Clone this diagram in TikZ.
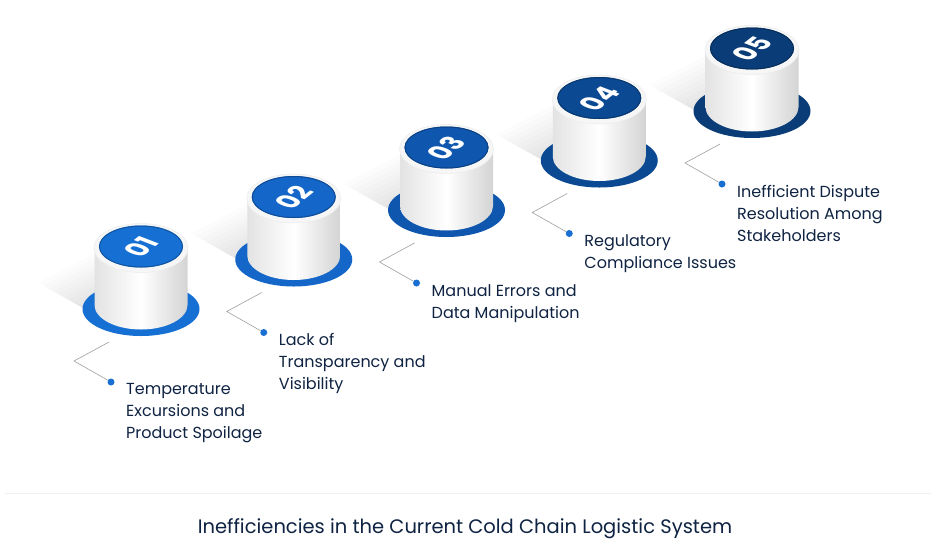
\documentclass[tikz,border=0pt]{standalone}
\usepackage{fontspec}
\setmainfont{Poppins}
\usepackage{xcolor}
\usepackage{tikz}
\usetikzlibrary{positioning}

\definecolor{ink}{HTML}{0F2342}
\definecolor{dotblue}{HTML}{1A6FD2}
\definecolor{blueA}{HTML}{1670D4}
\definecolor{blueB}{HTML}{1466C8}
\definecolor{blueC}{HTML}{0F57AE}
\definecolor{blueD}{HTML}{0B4A92}
\definecolor{blueE}{HTML}{0A3D78}

\begin{document}
\begin{tikzpicture}[x=1pt, y=-1pt,
        pointtext/.style={anchor=north west, align=left, inner sep=0pt, text=ink,
            font=\fontsize{16}{22}\selectfont},
        bullet/.style={circle, fill=dotblue, inner sep=0pt, minimum size=7pt},
        link/.style={draw=gray!75, line width=0.6pt},
        numtext/.style={text=white, inner sep=0pt, font=\fontsize{33}{33}\selectfont\bfseries}]

        \fill[white] (0,0) rectangle (931,555);
        \useasboundingbox (0,0) rectangle (931,555);

        \foreach \i/\col/\num/\txt in {
                0/blueA/01/{Temperature\\Excursions and\\Product Spoilage},
                1/blueB/02/{Lack of\\Transparency and\\Visibility},
                2/blueC/03/{Manual Errors and\\Data Manipulation},
                3/blueD/04/{Regulatory\\Compliance Issues},
                4/blueE/05/{Inefficient Dispute\\Resolution Among\\Stakeholders}} {

            \coordinate (top\num) at (141+152.75*\i, 248-49.5*\i);

            \begin{scope}[shift={(top\num)}]
                % soft shadow on the floor, built up in layers
                \foreach \k in {1,...,14}
                    \fill[black, opacity=0.012]
                        (33,40) -- (-33,74) -- ++(-5*\k,-2.8*\k) -- ++(66,-34) -- cycle;
                % base disk
                \fill[\col] (0,61) ellipse [x radius=58.5pt, y radius=27pt];
                % body
                \shade[left color=gray!22, right color=gray!34, middle color=white]
                    (-46.5,0) -- (-46.5,57)
                    arc[start angle=180, end angle=360, x radius=46.5pt, y radius=24.5pt]
                    -- (46.5,0) -- cycle;
                % top face
                \fill[gray!7] (0,0) ellipse [x radius=47pt, y radius=24.5pt];
                \draw[gray!15, line width=0.5pt] (0,0) ellipse [x radius=47pt, y radius=24.5pt];
                \fill[\col] (0,-1.5) ellipse [x radius=42pt, y radius=21pt];
                \draw[\col!75!black, line width=1pt] (0,-1.5) ellipse [x radius=41.5pt, y radius=20.5pt];
                \begin{scope}[yscale=0.55]
                    \node[numtext, transform shape, rotate=55] (num\num) at (0,-2) {\num};
                \end{scope}

                \coordinate (in\num) at (-32,94);
                \coordinate (bend\num) at (-67,113);
                \node[bullet] (dot\num) at (-30,134) {};
            \end{scope}

            \node[pointtext] (lab\num) at ([xshift=15pt, yshift=-1pt]dot\num.center) {\txt};
            \draw[link] (in\num) -- (bend\num) -- (dot\num);
        }

        \draw[gray!12, line width=1pt] (5,493) -- (931,493);
        \node[text=ink, font=\fontsize{19.5}{22}\selectfont] (title) at (465,529)
            {Inefficiencies in the Current Cold Chain Logistic System};

    \end{tikzpicture}
\end{document}
